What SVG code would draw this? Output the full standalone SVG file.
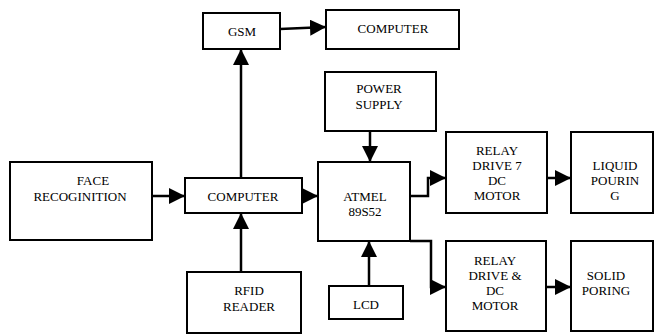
<svg xmlns="http://www.w3.org/2000/svg" width="655" height="334" viewBox="0 0 655 334">
<style>
.box{fill:#fff;stroke:#000;stroke-width:2}
text{font-family:'Liberation Serif','DejaVu Serif',serif;font-size:13px;fill:#000;text-anchor:middle}
.c{fill:none;stroke:#000;stroke-width:2.5;marker-end:url(#ah)}
</style>
<defs>
<marker id="ah" markerUnits="userSpaceOnUse" markerWidth="16" markerHeight="16" refX="16" refY="8" orient="auto" viewBox="0 0 16 16">
<path d="M0,0 L16,8 L0,16 z" fill="#000"/>
</marker>
</defs>
<rect width="655" height="334" fill="#fff"/>
<g id="connectors">
<path class="c" d="M280,29 L326,27"/>
<path class="c" d="M241,178 V49"/>
<path class="c" d="M152,196 H185"/>
<path class="c" d="M302,196 H318"/>
<path class="c" d="M241,272 V213"/>
<path class="c" d="M370,131 V162"/>
<path class="c" d="M369,286 V241"/>
<path class="c" d="M410,196 H428 V178 H446"/>
<path class="c" d="M410,241 H431 V287 H446"/>
<path class="c" d="M547,178 H571"/>
<path class="c" d="M546,287 H571"/>
</g>
<g id="gsm"><rect class="box" x="203" y="13" width="77" height="36"/><text x="242" y="36">GSM</text></g>
<g id="computer-top"><rect class="box" x="326" y="10" width="133" height="39"/><text x="393" y="33">COMPUTER</text></g>
<g id="face"><rect class="box" x="10" y="162" width="142" height="78"/><text x="93" y="185">FACE</text><text x="80" y="201">RECOGINITION</text></g>
<g id="computer"><rect class="box" x="185" y="178" width="117" height="35"/><text x="243" y="201">COMPUTER</text></g>
<g id="atmel"><rect class="box" x="318" y="162" width="92" height="79"/><text x="365" y="201">ATMEL</text><text x="365" y="216">89S52</text></g>
<g id="power"><rect class="box" x="325" y="72" width="111" height="59"/><text x="379" y="93">POWER</text><text x="379" y="109">SUPPLY</text></g>
<g id="relay1"><rect class="box" x="446" y="132" width="101" height="81"/><text x="497" y="155">RELAY</text><text x="497" y="170">DRIVE 7</text><text x="497" y="185">DC</text><text x="497" y="200">MOTOR</text></g>
<g id="liquid"><rect class="box" x="571" y="132" width="82" height="81"/><text x="615" y="170">LIQUID</text><text x="615" y="185">POURIN</text><text x="615" y="200">G</text></g>
<g id="rfid"><rect class="box" x="187" y="272" width="114" height="61"/><text x="249" y="295">RFID</text><text x="249" y="311">READER</text></g>
<g id="lcd"><rect class="box" x="329" y="286" width="74" height="33"/><text x="366" y="309">LCD</text></g>
<g id="relay2"><rect class="box" x="446" y="241" width="100" height="90"/><text x="495" y="265">RELAY</text><text x="495" y="280">DRIVE &amp;</text><text x="495" y="295">DC</text><text x="495" y="310">MOTOR</text></g>
<g id="solid"><rect class="box" x="571" y="241" width="82" height="90"/><text x="606" y="280">SOLID</text><text x="606" y="295">PORING</text></g>
</svg>
